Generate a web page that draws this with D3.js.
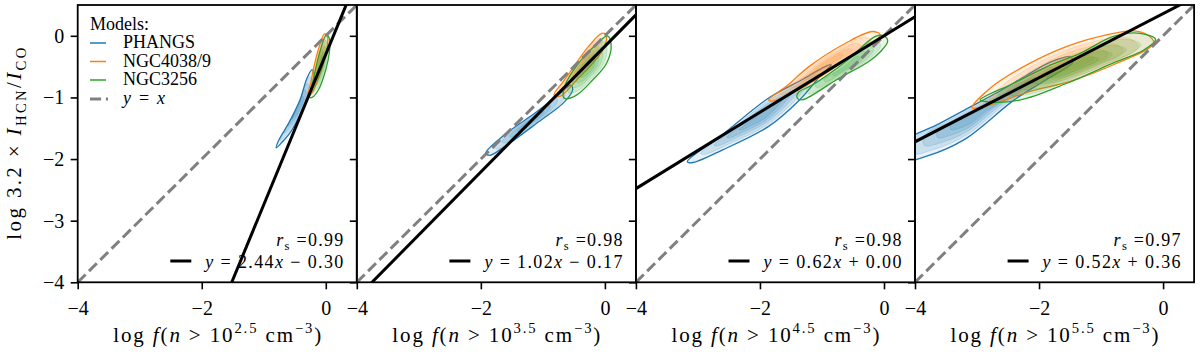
<!DOCTYPE html>
<html>
<head>
<meta charset="utf-8">
<script src="https://cdn.jsdelivr.net/npm/d3@7"></script>
<style>
  body { margin: 0; background: #fff; }
  svg { display: block; font-family: "Liberation Serif", "DejaVu Serif", serif; }
</style>
</head>
<body>
<div id="chart"></div>
<script>
// values
const thresholds = ["2.5", "3.5", "4.5", "5.5"];
const fitSlope = [2.44, 1.02, 0.62, 0.52];
const fitIntercept = [-0.30, -0.17, 0.00, 0.36];
const spearman = [0.99, 0.98, 0.98, 0.97];
const xTicks = [-4, -2, 0];
const yTicks = [-4, -3, -2, -1, 0];
const models = ["PHANGS", "NGC4038/9", "NGC3256"];
const modelColors = ["#1f77b4", "#ff7f0e", "#2ca02c"];

// outer contour outlines, [log f, log ratio], one per panel
const phangsContours = [
  [[-0.80,-1.82],[-0.70,-1.72],[-0.56,-1.55],[-0.40,-1.25],[-0.26,-0.95],[-0.18,-0.68],[-0.22,-0.55],[-0.30,-0.68],[-0.42,-1.05],[-0.60,-1.42],[-0.76,-1.70]],
  [[-1.92,-1.90],[-1.65,-1.63],[-1.11,-1.24],[-0.74,-0.95],[-0.55,-0.80],[-0.52,-0.88],[-0.66,-1.08],[-1.10,-1.42],[-1.62,-1.80],[-1.86,-1.94]],
  [[-3.17,-2.04],[-2.60,-1.60],[-1.86,-1.01],[-1.30,-0.70],[-0.95,-0.50],[-0.85,-0.47],[-1.00,-0.62],[-1.37,-1.05],[-1.86,-1.47],[-2.60,-1.85],[-3.10,-2.06]],
  [[-4.30,-1.80],[-3.60,-1.42],[-3.10,-1.15],[-2.60,-0.88],[-2.20,-0.64],[-1.80,-0.42],[-1.50,-0.34],[-1.45,-0.42],[-1.90,-0.72],[-2.40,-1.04],[-3.20,-1.68],[-3.80,-1.95],[-4.30,-2.05]]
];
const ngc4038Contours = [
  [[-0.29,-0.98],[-0.24,-0.75],[-0.18,-0.45],[-0.08,-0.10],[-0.02,0.03],[0.03,-0.02],[0.00,-0.30],[-0.12,-0.70],[-0.24,-0.95]],
  [[-0.82,-0.96],[-0.70,-0.78],[-0.57,-0.60],[-0.27,-0.18],[-0.05,0.04],[0.02,0.02],[-0.02,-0.20],[-0.20,-0.45],[-0.42,-0.68],[-0.72,-0.98]],
  [[-1.86,-1.04],[-1.55,-0.80],[-1.21,-0.50],[-0.62,-0.12],[-0.19,0.07],[-0.06,0.02],[-0.12,-0.06],[-0.40,-0.23],[-0.94,-0.61],[-1.48,-0.93],[-1.80,-1.06]],
  [[-3.08,-1.17],[-2.79,-0.85],[-2.25,-0.50],[-1.55,-0.17],[-0.80,0.04],[-0.48,0.08],[-0.26,0.02],[-0.15,-0.12],[-0.80,-0.47],[-1.50,-0.74],[-2.14,-0.90],[-2.79,-1.12]]
];
const ngc3256Contours = [
  [[-0.26,-1.00],[-0.20,-0.70],[-0.12,-0.35],[-0.03,-0.05],[0.01,0.02],[0.06,-0.05],[0.06,-0.25],[0.00,-0.55],[-0.12,-0.88],[-0.22,-1.00]],
  [[-0.66,-1.01],[-0.64,-0.80],[-0.42,-0.44],[-0.14,-0.14],[0.04,0.00],[0.10,-0.14],[0.03,-0.44],[-0.20,-0.72],[-0.47,-0.97]],
  [[-1.40,-1.01],[-1.38,-0.92],[-1.16,-0.80],[-0.62,-0.42],[-0.14,-0.01],[0.00,0.00],[0.06,-0.09],[-0.05,-0.25],[-0.25,-0.42],[-0.73,-0.69],[-1.32,-1.04]],
  [[-2.95,-1.04],[-2.41,-0.77],[-1.87,-0.50],[-1.33,-0.28],[-0.80,-0.01],[-0.37,0.04],[-0.12,-0.06],[-0.31,-0.23],[-0.80,-0.44],[-1.55,-0.77],[-2.30,-1.04],[-2.84,-1.07]]
];
const contourSets = [phangsContours, ngc4038Contours, ngc3256Contours];
const levelScale = [1, 0.82, 0.64, 0.47, 0.3];

const W = 1200, H = 356;
const left0 = 77.7, panelW = 279.1, plotTop = 5, plotBottom = 282.3;
const fs = 18;

const svg = d3.select("#chart").append("svg").attr("width", W).attr("height", H);

// text with italic / subscript / superscript pieces
function rich(text, parts, size, width) {
  let cur = 0;
  parts.forEach(function(p) {
    const ts = text.append("tspan").text(p.t);
    let target = 0;
    if (p.it) ts.attr("font-style", "italic");
    if (p.sub) { ts.attr("font-size", size * 0.7); target = size * 0.25; }
    if (p.sup) { ts.attr("font-size", size * 0.7); target = -size * 0.42; }
    ts.attr("dy", target - cur);
    cur = target;
  });
  if (width) text.attr("textLength", width).attr("lengthAdjust", "spacing");
  return text;
}

const y = d3.scaleLinear().domain([-4, 0.5]).range([plotBottom, plotTop]);

for (let p = 0; p < 4; p++) {
  const x0 = left0 + p * panelW;
  const x = d3.scaleLinear().domain([-4, 0.5]).range([x0, x0 + panelW]);
  const g = svg.append("g").attr("class", "panel" + p);

  g.append("clipPath").attr("id", "clip" + p)
    .append("rect").attr("x", x0).attr("y", plotTop).attr("width", panelW).attr("height", plotBottom - plotTop);
  const plot = g.append("g").attr("clip-path", "url(#clip" + p + ")");

  // KDE-like contour stacks
  const line = d3.line().x(function(d){ return x(d[0]); }).y(function(d){ return y(d[1]); })
    .curve(d3.curveCatmullRomClosed.alpha(0.5));
  contourSets.forEach(function(set, m) {
    const poly = set[p];
    const c = d3.polygonCentroid(poly);
    levelScale.forEach(function(s, k) {
      const shrunk = poly.map(function(d){ return [c[0] + (d[0] - c[0]) * s, c[1] + (d[1] - c[1]) * s]; });
      plot.append("path")
        .attr("d", line(shrunk))
        .attr("fill", modelColors[m])
        .attr("fill-opacity", k === 0 ? 0.1 : 0.14)
        .attr("stroke", modelColors[m])
        .attr("stroke-opacity", k === 0 ? 1 : 0.25)
        .attr("stroke-width", k === 0 ? 1.3 : 0.7);
    });
  });

  // y = x
  plot.append("line")
    .attr("x1", x(-4)).attr("y1", y(-4)).attr("x2", x(0.5)).attr("y2", y(0.5))
    .attr("stroke", "#808080").attr("stroke-width", 3).attr("stroke-dasharray", "11.1,4.8");

  // fitted line
  const fit = function(v){ return fitSlope[p] * v + fitIntercept[p]; };
  plot.append("line")
    .attr("x1", x(-4)).attr("y1", y(fit(-4))).attr("x2", x(0.5)).attr("y2", y(fit(0.5)))
    .attr("stroke", "#000").attr("stroke-width", 3);

  // frame
  g.append("rect").attr("x", x0).attr("y", plotTop).attr("width", panelW).attr("height", plotBottom - plotTop)
    .attr("fill", "none").attr("stroke", "#000").attr("stroke-width", 1.8);

  // axes
  const fmt = function(d){ return d < 0 ? "\u2212" + Math.abs(d) : d; };
  const xAxis = g.append("g").attr("transform", "translate(0," + plotBottom + ")")
    .call(d3.axisBottom(x).tickValues(xTicks).tickSize(7).tickFormat(fmt));
  const yAxis = g.append("g").attr("transform", "translate(" + x0 + ",0)")
    .call(d3.axisLeft(y).tickValues(yTicks).tickSize(7).tickPadding(6.5).tickFormat(fmt));
  [xAxis, yAxis].forEach(function(a) {
    a.attr("font-family", null);
    a.select(".domain").remove();
    a.selectAll(".tick line").attr("stroke-width", 1.6);
    a.selectAll("text").attr("font-family", "'Liberation Serif', serif").attr("font-size", 20).attr("fill", "#000");
  });
  xAxis.selectAll("text").attr("y", 32.7).attr("dy", 0);
  if (p > 0) yAxis.selectAll("text").remove();

  // x label
  rich(g.append("text").attr("x", x0 + panelW / 2).attr("y", 342).attr("text-anchor", "middle").attr("font-size", 21),
    [{t: "log "}, {t: "f", it: true}, {t: "("}, {t: "n", it: true}, {t: " > 10"}, {t: thresholds[p], sup: true},
     {t: " cm"}, {t: "\u22123", sup: true}, {t: ")"}], 21, 208);

  // spearman and fit annotation
  const xr = x0 + panelW - 13.5;
  rich(g.append("text").attr("x", xr).attr("y", 245.7).attr("text-anchor", "end").attr("font-size", 18),
    [{t: "r", it: true}, {t: "s", sub: true}, {t: " =" + spearman[p].toFixed(2)}], 18, 67);
  const b = fitIntercept[p];
  const eq = rich(g.append("text").attr("x", xr).attr("y", 268.3).attr("text-anchor", "end").attr("font-size", 18),
    [{t: "y", it: true}, {t: " = " + fitSlope[p].toFixed(2)}, {t: "x", it: true},
     {t: (b < 0 ? " \u2212 " : " + ") + Math.abs(b).toFixed(2)}], 18, 138);
  const eqStart = eq.node().getBBox().x;
  g.append("line").attr("x1", eqStart - 33).attr("x2", eqStart - 12).attr("y1", 261).attr("y2", 261)
    .attr("stroke", "#000").attr("stroke-width", 3);
}

// y label
rich(svg.append("text").attr("transform", "translate(21," + ((plotTop + plotBottom) / 2) + ") rotate(-90)")
  .attr("text-anchor", "middle").attr("font-size", 21),
  [{t: "log 3.2 \u00d7 "}, {t: "I", it: true}, {t: "HCN", sub: true}, {t: "/"}, {t: "I", it: true}, {t: "CO", sub: true}], 21, 192);

// legend
const legend = svg.append("g").attr("class", "legend");
legend.append("text").attr("x", 90).attr("y", 30).attr("font-size", fs).text("Models:");
models.forEach(function(name, i) {
  const by = 48 + i * 18.5;
  legend.append("line").attr("x1", 90).attr("x2", 106).attr("y1", by - 5).attr("y2", by - 5)
    .attr("stroke", modelColors[i]).attr("stroke-width", 1.5);
  legend.append("text").attr("x", 123).attr("y", by).attr("font-size", fs).text(name);
});
legend.append("line").attr("x1", 90).attr("x2", 108).attr("y1", 99).attr("y2", 99)
  .attr("stroke", "#808080").attr("stroke-width", 3).attr("stroke-dasharray", "11.1,4.8");
rich(legend.append("text").attr("x", 123).attr("y", 103.5).attr("font-size", fs),
  [{t: "y", it: true}, {t: " = "}, {t: "x", it: true}], fs, 42);
</script>
</body>
</html>
